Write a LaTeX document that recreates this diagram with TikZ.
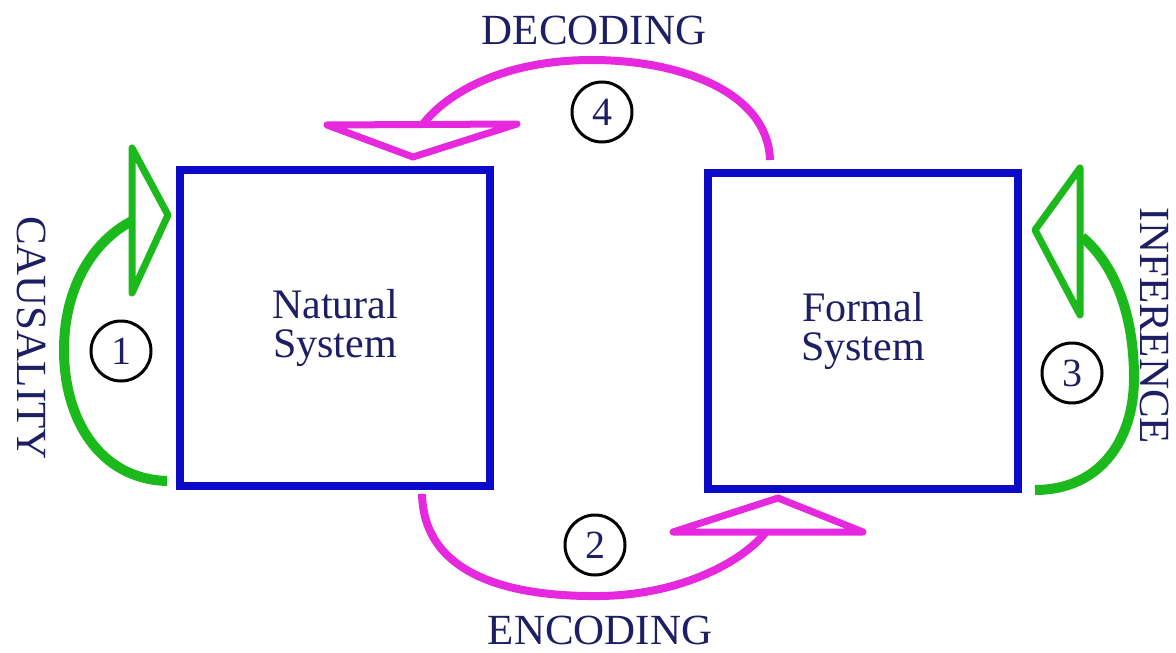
\documentclass[tikz,border=0pt]{standalone}
\usepackage{fontspec}
\setmainfont{Liberation Serif}
\begin{document}
\definecolor{boxblue}{RGB}{10,10,200}
\definecolor{txtnavy}{RGB}{30,30,100}
\definecolor{arcgreen}{RGB}{28,185,28}
\definecolor{arcmag}{RGB}{230,40,222}
\begin{tikzpicture}[x=1pt,y=-1pt,
  sysbox/.style={draw=boxblue,line width=8pt,inner sep=0pt,minimum width=310pt,minimum height=316pt,
    text=txtnavy,align=center,font=\fontsize{42}{39}\selectfont},
  numcirc/.style={circle,draw=black,line width=3pt,minimum size=60pt,inner sep=0pt,
    text=txtnavy,font=\fontsize{40}{40}\selectfont},
  lbl/.style={text=txtnavy,font=\fontsize{43}{45}\selectfont,inner sep=0pt},
  garc/.style={draw=arcgreen,line width=10pt},
  ghead/.style={draw=arcgreen,line width=7pt,line join=round,fill=white},
  marc/.style={draw=arcmag,line width=8pt},
  mhead/.style={draw=arcmag,line width=7pt,line join=round,fill=white}]
\useasboundingbox (0,0) rectangle (1176,653);

% systems
\node[sysbox] (nat) at (335,327.5) {Natural\\System};
\node[sysbox] (form) at (863,331) {Formal\\System};

% arc end coordinates
\coordinate (c1s) at (167,481);
\coordinate (c1e) at (132,221);
\coordinate (c2s) at (422,494);
\coordinate (c2e) at (765,533);
\coordinate (c3s) at (1035,490);
\coordinate (c3e) at (1082,237);
\coordinate (c4s) at (770,160);
\coordinate (c4e) at (423,124);

% 1 causality (green)
\draw[garc] (c1s) .. controls (100,479) and (64,420) .. (64,350) .. controls (64,285) and (95,240) .. (c1e);
\draw[ghead] (132,148) -- (168,215) -- (132,293) -- cycle;

% 3 inference (green)
\draw[garc] (c3s) .. controls (1100,490) and (1134,440) .. (1134,378) .. controls (1134,310) and (1112,262) .. (c3e);
\draw[ghead] (1080,168) -- (1035,230) -- (1080,315) -- cycle;

% 2 encoding (magenta)
\draw[marc] (c2s) .. controls (424,580) and (520,597) .. (600,596) .. controls (680,595) and (742,562) .. (c2e);
\draw[mhead] (673,532) -- (778,498) -- (863,532) -- cycle;

% 4 decoding (magenta)
\draw[marc] (c4s) .. controls (768,92) and (680,60) .. (592,60) .. controls (505,60) and (448,92) .. (c4e);
\draw[mhead] (327,125) -- (413,157) -- (517,124) -- cycle;

% numbers
\node[numcirc] (n1) at (121,351) {1};
\node[numcirc] (n2) at (595,545) {2};
\node[numcirc] (n3) at (1072,373) {3};
\node[numcirc] (n4) at (602,112) {4};

% labels
\node[lbl,anchor=base] (dec) at (594,45) {DECODING};
\node[lbl,anchor=base] (enc) at (600,644) {ENCODING};
\node[lbl,rotate=-90] (cau) at (32,338) {CAUSALITY};
\node[lbl,rotate=-90] (inf) at (1155,326) {INFERENCE};
\end{tikzpicture}
\end{document}
